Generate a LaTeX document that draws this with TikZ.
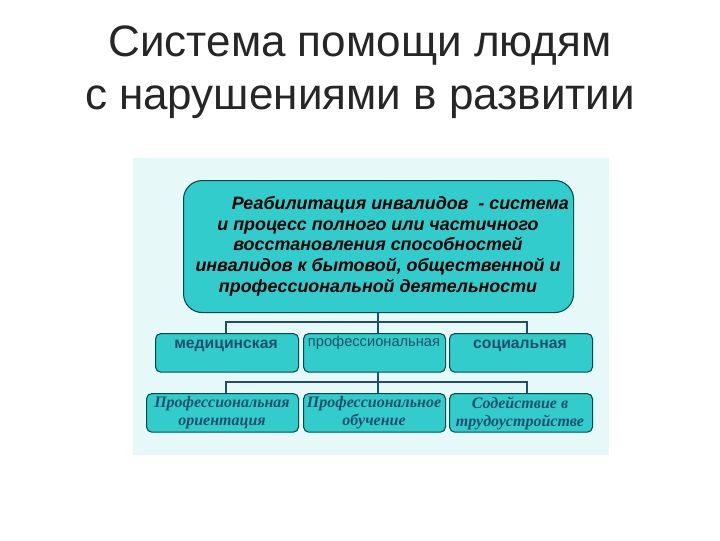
\documentclass[tikz,border=0pt]{standalone}
\usepackage{fontspec}
\setmainfont{Liberation Sans}
\newfontfamily\serifit{Liberation Serif}
\begin{document}
\begin{tikzpicture}[x=0.75pt,y=-0.75pt,
  box/.style={draw=teal!60!black,fill=boxc,rounded corners=4pt,line width=0.8pt},
  conn/.style={draw=linec,line width=2pt}]
\definecolor{boxc}{HTML}{33CCCC}
\definecolor{linec}{HTML}{1F4F6F}
\definecolor{panel}{HTML}{E6F8F8}
\useasboundingbox (0,0) rectangle (720,540);
\node (title) at (360,72) [align=center,font=\fontsize{33}{40}\selectfont,text=black!85] {Система помощи людям\\с нарушениями в развитии};
\fill[panel] (133,158) rectangle (609,455);
% connectors
\coordinate (c1) at (378,322); \coordinate (c2) at (378,382);
\draw[conn] (378,312) -- (c1);
\draw[conn] (226,333) -- (226,322) -- (527,322) -- (527,333);
\draw[conn] (c1) -- (378,333);
\draw[conn] (378,372) -- (c2);
\draw[conn] (226,393) -- (226,382) -- (527,382) -- (527,393);
\draw[conn] (c2) -- (378,393);
\node (top) [box,rounded corners=14pt,minimum width=292.5pt,minimum height=99pt,anchor=north west] at (183,180) {};
\node[align=center,font=\bfseries\itshape\fontsize{13.4}{15.5}\selectfont] at (378,246) {\hspace*{2.5em}Реабилитация инвалидов~ - система\\и процесс полного или частичного\\восстановления способностей\\инвалидов к бытовой, общественной и\\профессиональной деятельности};
\foreach \n/\x/\w in {m1/155/143,m2/303/142,m3/449/143}
  \node (\n) [box,anchor=north west,minimum width=\w*0.75pt,minimum height=29pt] at (\x,333) {};
\node[font=\bfseries\fontsize{11.8}{13}\selectfont,text=linec] at (226,346) {медицинская};
\node[font=\fontsize{11}{12}\selectfont,text=linec] at (374,343) {профессиональная};
\node[font=\bfseries\fontsize{11.8}{13}\selectfont,text=linec] at (520,346) {социальная};
\foreach \n/\x/\w in {b1/146/152,b2/303/142,b3/449/143}
  \node (\n) [box,anchor=north west,minimum width=\w*0.75pt,minimum height=29pt] at (\x,393) {};
\begin{scope}[every node/.style={align=center,font=\serifit\bfseries\itshape\fontsize{12}{13.5}\selectfont,text=linec}]
\node at (222,413) {Профессиональная\\ориентация};
\node at (374,413) {Профессиональное\\обучение};
\node at (520,413) {Содействие в\\трудоустройстве};
\end{scope}
\end{tikzpicture}
\end{document}
